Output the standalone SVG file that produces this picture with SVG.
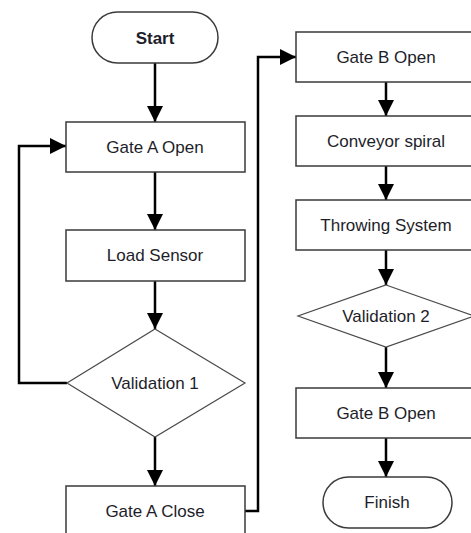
<svg xmlns="http://www.w3.org/2000/svg" width="471" height="533" viewBox="0 0 471 533">
<style>
.box{fill:#fff;stroke:#3a3a3a;stroke-width:1.5}
.dia{fill:#fff;stroke:#4a4a4a;stroke-width:1.2}
.lbl{font-family:"Liberation Sans",Arial,sans-serif;font-size:17px;fill:#1e1e2a;text-anchor:middle;dominant-baseline:central}
.bold{font-weight:bold}
.conn{fill:none;stroke:#000;stroke-width:2.5}
</style>
<defs>
<marker id="arr" markerUnits="userSpaceOnUse" markerWidth="16" markerHeight="16" refX="16" refY="8" orient="auto" viewBox="0 0 16 16">
<path d="M0,0 L16,8 L0,16 z" fill="#000"/>
</marker>
</defs>
<g id="connectors">
<line class="conn" x1="155" y1="63" x2="155" y2="122" marker-end="url(#arr)"/>
<line class="conn" x1="155" y1="172" x2="155" y2="230" marker-end="url(#arr)"/>
<line class="conn" x1="155" y1="281" x2="155" y2="329" marker-end="url(#arr)"/>
<line class="conn" x1="155" y1="437" x2="155" y2="486" marker-end="url(#arr)"/>
<polyline class="conn" points="67,383 19,383 19,146 66,146" marker-end="url(#arr)"/>
<polyline class="conn" points="245,511 258,511 258,57 296,57" marker-end="url(#arr)"/>
<line class="conn" x1="386" y1="82" x2="386" y2="116" marker-end="url(#arr)"/>
<line class="conn" x1="386" y1="166" x2="386" y2="200" marker-end="url(#arr)"/>
<line class="conn" x1="386" y1="250" x2="386" y2="285" marker-end="url(#arr)"/>
<line class="conn" x1="386" y1="347" x2="386" y2="388" marker-end="url(#arr)"/>
<line class="conn" x1="386" y1="438" x2="386" y2="477" marker-end="url(#arr)"/>
</g>
<g id="start">
<rect class="box" x="92" y="12" width="126" height="51" rx="25.5"/>
<text class="lbl bold" x="155" y="38">Start</text>
</g>
<g id="gateAOpen">
<rect class="box" x="66" y="122" width="179" height="50"/>
<text class="lbl" x="155" y="147">Gate A Open</text>
</g>
<g id="loadSensor">
<rect class="box" x="66" y="230" width="179" height="51"/>
<text class="lbl" x="155" y="255">Load Sensor</text>
</g>
<g id="validation1">
<polygon class="dia" points="155,329 245,383 155,437 67,383"/>
<text class="lbl" x="155" y="383">Validation 1</text>
</g>
<g id="gateAClose">
<rect class="box" x="66" y="486" width="179" height="52"/>
<text class="lbl" x="155" y="511">Gate A Close</text>
</g>
<g id="gateBOpen1">
<rect class="box" x="296" y="32" width="180" height="50"/>
<text class="lbl" x="386" y="57">Gate B Open</text>
</g>
<g id="conveyor">
<rect class="box" x="296" y="116" width="180" height="50"/>
<text class="lbl" x="386" y="141">Conveyor spiral</text>
</g>
<g id="throwing">
<rect class="box" x="296" y="200" width="180" height="50"/>
<text class="lbl" x="386" y="225">Throwing System</text>
</g>
<g id="validation2">
<polygon class="dia" points="386,285 474,316 386,347 298,316"/>
<text class="lbl" x="386" y="316">Validation 2</text>
</g>
<g id="gateBOpen2">
<rect class="box" x="296" y="388" width="180" height="50"/>
<text class="lbl" x="386" y="413">Gate B Open</text>
</g>
<g id="finish">
<rect class="box" x="323" y="477" width="129" height="51" rx="25.5"/>
<text class="lbl" x="387" y="502">Finish</text>
</g>
</svg>
